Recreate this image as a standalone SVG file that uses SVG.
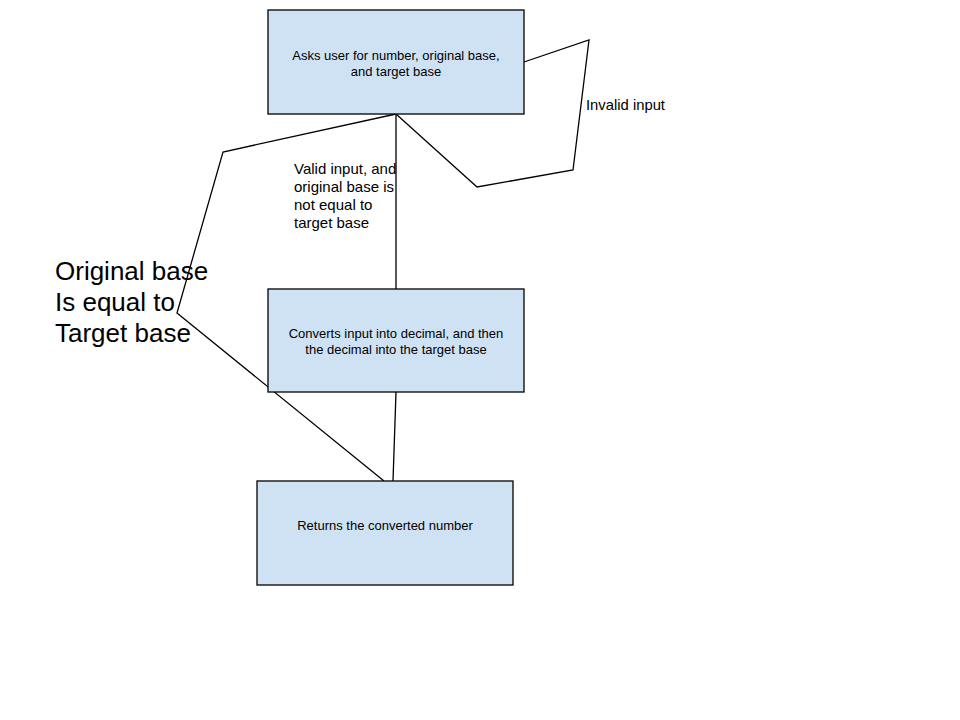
<svg xmlns="http://www.w3.org/2000/svg" width="960" height="720" viewBox="0 0 960 720">
<style>
.box{fill:#cfe2f3;stroke:#000;stroke-width:1.3}
.t{font-family:"Liberation Sans",Arial,sans-serif;fill:#000}
.n{font-size:13px;text-anchor:middle}
.c{fill:none;stroke:#000;stroke-width:1.3}
</style>
<rect width="960" height="720" fill="#fff"/>
<g id="connectors">
<polyline class="c" points="524,62 589,40 573,170 477,187 396,114"/>
<line class="c" x1="396" y1="114" x2="396" y2="289"/>
<line class="c" x1="396" y1="392" x2="393" y2="481"/>
<polyline class="c" points="396,114 223,152 177,313 384,481"/>
</g>
<g id="labels" class="t">
<text x="586" y="110" font-size="14.8">Invalid input</text>
<text x="294" y="174" font-size="15"><tspan x="294">Valid input, and</tspan><tspan x="294" dy="18">original base is</tspan><tspan x="294" dy="18">not equal to</tspan><tspan x="294" dy="18">target base</tspan></text>
<text x="55" y="280" font-size="26"><tspan x="55">Original base</tspan><tspan x="55" dy="31">Is equal to</tspan><tspan x="55" dy="31">Target base</tspan></text>
</g>
<g id="node1">
<rect class="box" x="268" y="10" width="256" height="104"/>
<text class="t n" x="396" y="60">Asks user for number, original base,</text>
<text class="t n" x="396" y="76">and target base</text>
</g>
<g id="node2">
<rect class="box" x="268" y="289" width="256" height="103"/>
<text class="t n" x="396" y="338">Converts input into decimal, and then</text>
<text class="t n" x="396" y="354">the decimal into the target base</text>
</g>
<g id="node3">
<rect class="box" x="257" y="481" width="256" height="104"/>
<text class="t n" x="385" y="530">Returns the converted number</text>
</g>
</svg>
